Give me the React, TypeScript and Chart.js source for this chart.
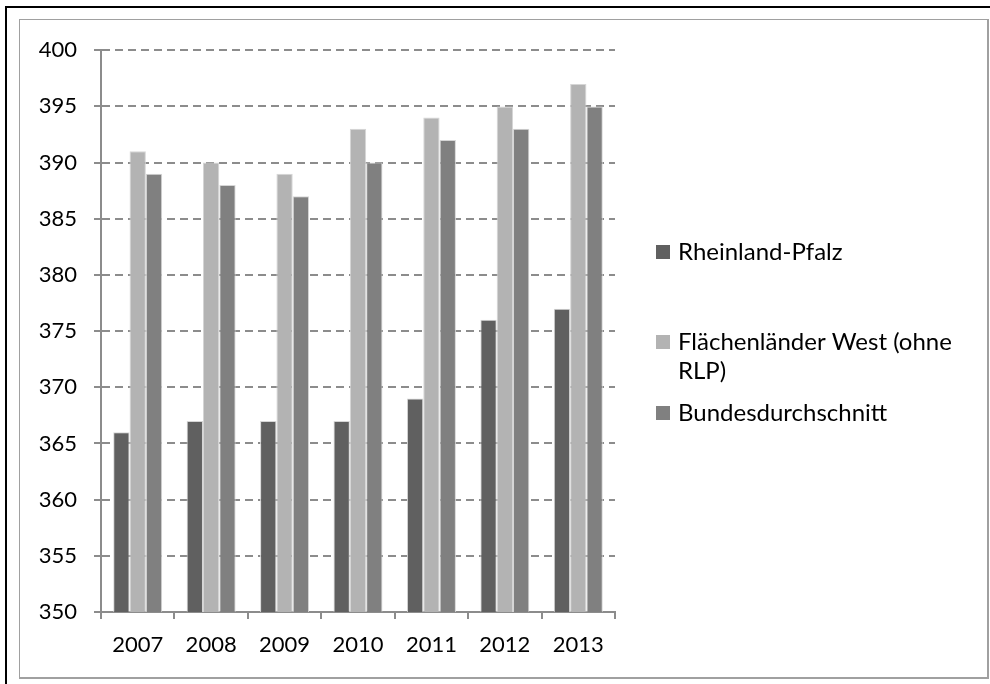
import React, { useEffect, useRef } from "react";
import { Chart, registerables } from "chart.js";

Chart.register(...registerables);

const years = ["2007", "2008", "2009", "2010", "2011", "2012", "2013"];
const rheinlandPfalz = [366, 367, 367, 367, 369, 376, 377];
const flaechenlaenderWest = [391, 390, 389, 393, 394, 395, 397];
const bundesdurchschnitt = [389, 388, 387, 390, 392, 393, 395];
const seriesNames = ["Rheinland-Pfalz", "Flächenländer West (ohne RLP)", "Bundesdurchschnitt"];
const seriesColors = ["#606060", "#b3b3b3", "#808080"];
const yMin = 350;
const yMax = 400;
const yStep = 5;

const FONT = "Lato, 'Open Sans', sans-serif";

function wrapText(ctx: CanvasRenderingContext2D, text: string, maxW: number): string[] {
  const words = text.split(" ");
  const lines: string[] = [];
  let cur = "";
  for (const w of words) {
    const test = cur ? cur + " " + w : w;
    if (ctx.measureText(test).width > maxW && cur) {
      lines.push(cur);
      cur = w;
    } else {
      cur = test;
    }
  }
  if (cur) lines.push(cur);
  return lines;
}

const sideLegend = {
  id: "sideLegend",
  afterDraw(chart: any) {
    const ctx: CanvasRenderingContext2D = chart.ctx;
    const area = chart.chartArea;
    const boxX = area.right + 41;
    const textX = area.right + 63;
    const rowY = [232, 322, 393];
    const lineH = 29;
    ctx.save();
    ctx.font = `24px ${FONT}`;
    ctx.textBaseline = "middle";
    ctx.textAlign = "left";
    chart.data.datasets.forEach((ds: any, i: number) => {
      const y = rowY[i];
      const lines = wrapText(ctx, ds.label, 290);
      ctx.fillStyle = ds.backgroundColor;
      ctx.fillRect(boxX, y - 7, 14, 14);
      ctx.fillStyle = "#000";
      lines.forEach((l, j) => ctx.fillText(l, textX, y + j * lineH));
    });
    ctx.restore();
  },
};

export default function App() {
  const ref = useRef<HTMLCanvasElement | null>(null);

  useEffect(() => {
    if (!ref.current) return;
    const values = [rheinlandPfalz, flaechenlaenderWest, bundesdurchschnitt];
    const chart = new Chart(ref.current, {
      type: "bar",
      data: {
        labels: years,
        datasets: values.map((v, i) => ({
          label: seriesNames[i],
          data: v,
          backgroundColor: seriesColors[i],
          borderColor: "#d6d6d6",
          borderWidth: 1,
          borderSkipped: "bottom",
          categoryPercentage: 0.667,
          barPercentage: 1.0,
        })),
      },
      options: {
        animation: false,
        responsive: false,
        maintainAspectRatio: false,
        layout: { padding: { left: 0, top: 29, right: 371, bottom: 0 } },
        plugins: {
          legend: { display: false },
          tooltip: { enabled: false },
        },
        scales: {
          x: {
            grid: {
              offset: true,
              drawOnChartArea: false,
              drawTicks: true,
              tickLength: 7,
              color: "#8c8c8c",
              lineWidth: 2,
            },
            border: { display: true, color: "#8c8c8c", width: 2 },
            ticks: {
              color: "#000",
              font: { family: FONT, size: 22 },
              padding: 13,
              maxRotation: 0,
            },
            afterFit: (s: any) => {
              s.height = 64;
            },
          },
          y: {
            min: yMin,
            max: yMax,
            ticks: {
              stepSize: yStep,
              color: "#000",
              font: { family: FONT, size: 22 },
              padding: 17,
            },
            grid: {
              color: "#8c8c8c",
              lineWidth: 2,
              tickLength: 7,
              drawTicks: true,
            },
            border: { display: true, color: "#8c8c8c", width: 2, dash: [8, 5] },
            afterFit: (s: any) => {
              s.width = 81;
            },
          },
        },
      },
      plugins: [sideLegend],
    });
    return () => chart.destroy();
  }, []);

  return (
    <>
      <div
        style={{
          position: "fixed",
          left: 5,
          top: 6,
          width: 1100,
          height: 800,
          borderLeft: "2px solid #000",
          borderTop: "2px solid #000",
        }}
      />
      <div
        style={{
          position: "fixed",
          left: 19,
          top: 19,
          width: 970,
          height: 660,
          boxSizing: "border-box",
          borderLeft: "1px solid #a0a0a0",
          borderTop: "1px solid #a0a0a0",
          borderRight: "2px solid #a0a0a0",
          borderBottom: "2px solid #a0a0a0",
          background: "#fff",
        }}
      >
        <canvas ref={ref} width={966} height={656} style={{ display: "block" }} />
      </div>
    </>
  );
}
